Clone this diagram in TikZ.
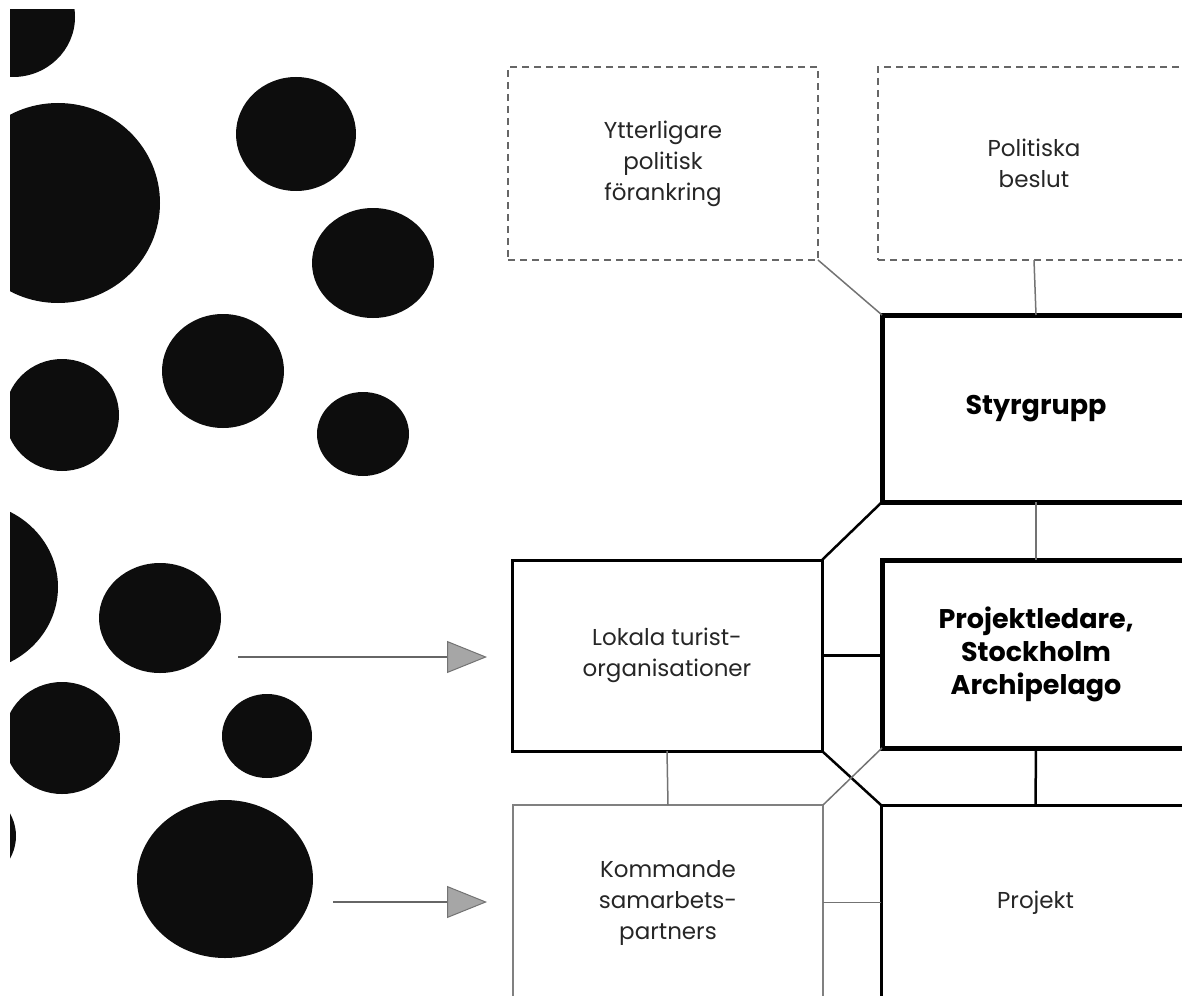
\documentclass[tikz,border=0pt]{standalone}
\usepackage{fontspec}
\setmainfont{Poppins}
\usetikzlibrary{arrows.meta}
\begin{document}
\begin{tikzpicture}[x=1pt,y=-1pt,
  box/.style={rectangle, outer sep=0pt, inner sep=0pt, align=center,
    font=\fontsize{23}{31}\selectfont, text=black!85},
  dashbox/.style={box, draw=black!60, line width=2pt, dash pattern=on 7pt off 5pt},
  headbox/.style={box, draw=black, line width=5pt,
    font=\bfseries\fontsize{27}{33}\selectfont, text=black},
  mainbox/.style={box, draw=black, line width=3pt},
  softbox/.style={box, draw=black!50, line width=2pt},
  thinlink/.style={draw=black!55, line width=1.5pt},
  boldlink/.style={draw=black, line width=2.5pt},
  feed/.style={draw=black!60, line width=1.5pt,
    -{Triangle[length=40pt,width=32pt,fill=black!35,color=black!55,line width=1pt]}},
  blob/.style={fill=black!95}]
\useasboundingbox (0,0) rectangle (1182,995);

% dots on the left
\begin{scope}
\clip (10,10) rectangle (520,995);
\fill[blob] (13,17) ellipse [x radius=62, y radius=60];
\fill[blob] (58,203) ellipse [x radius=102, y radius=100];
\fill[blob] (296,134) ellipse [x radius=60, y radius=57];
\fill[blob] (373,263) ellipse [x radius=61, y radius=55];
\fill[blob] (223,371) ellipse [x radius=61, y radius=57];
\fill[blob] (62,415) ellipse [x radius=57, y radius=56];
\fill[blob] (363,434) ellipse [x radius=46, y radius=42];
\fill[blob] (-32,587) ellipse [x radius=90, y radius=85];
\fill[blob] (160,618) ellipse [x radius=61, y radius=55];
\fill[blob] (62,738) ellipse [x radius=58, y radius=56];
\fill[blob] (267,736) ellipse [x radius=45, y radius=42];
\fill[blob] (-35,836) ellipse [x radius=51, y radius=48];
\fill[blob] (225,879) ellipse [x radius=88, y radius=79];
\end{scope}

% boxes
\node[dashbox, minimum width=310pt, minimum height=193pt] (ytter) at (663,163.5)
  {Ytterligare\\politisk\\förankring};
\node[dashbox, minimum width=312pt, minimum height=193pt] (beslut) at (1034,163.5)
  {Politiska\\beslut};
\node[headbox, minimum width=308pt, minimum height=187pt] (styr) at (1036,408.5)
  {Styrgrupp};
\node[headbox, minimum width=308pt, minimum height=188pt] (leder) at (1036,654)
  {Projektledare,\\Stockholm\\Archipelago};
\node[mainbox, minimum width=310pt, minimum height=191pt] (lokala) at (667,655.5)
  {Lokala turist-\\organisationer};
\node[softbox, minimum width=310pt, minimum height=195pt] (kommande) at (668,902.5)
  {Kommande\\samarbets-\\partners};
\node[mainbox, minimum width=309pt, minimum height=195pt] (projekt) at (1035.5,902.5)
  {Projekt};

% links
\draw[thinlink] (ytter.south east) -- (styr.north west);
\draw[thinlink] (beslut.south) -- (styr.north);
\draw[thinlink] (styr.south) -- (leder.north);
\draw[boldlink] (styr.south west) -- (lokala.north east);
\draw[boldlink] (lokala.east) -- (lokala.east -| leder.west);
\draw[boldlink] (lokala.south east) -- (projekt.north west);
\draw[thinlink] (kommande.north east) -- (leder.south west);
\draw[thinlink] (lokala.south) -- (kommande.north);
\draw[boldlink] (leder.south) -- (projekt.north);
\draw[thinlink] (kommande.east) -- (kommande.east -| projekt.west);

% arrows
\coordinate (from1) at (238,657);
\coordinate (to1) at (487,657);
\coordinate (from2) at (333,902);
\coordinate (to2) at (487,902);
\draw[feed] (from1) -- (to1);
\draw[feed] (from2) -- (to2);
\end{tikzpicture}
\end{document}
